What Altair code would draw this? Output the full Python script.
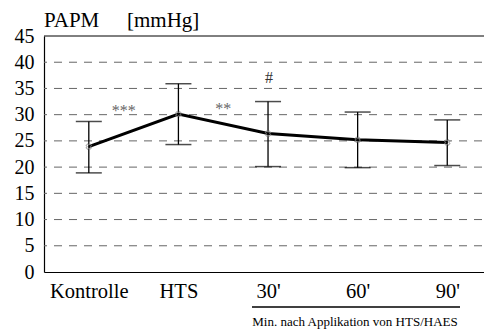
import altair as alt
import pandas as pd

# PAPM (mean pulmonary arterial pressure) over the course of the study
phases = ["Kontrolle", "HTS", "30'", "60'", "90'"]
mean_papm = [23.9, 30.1, 26.4, 25.2, 24.7]
upper_sd = [28.7, 35.9, 32.5, 30.5, 29.0]
lower_sd = [18.9, 24.3, 20.1, 19.9, 20.3]

# significance markers placed between / above the phases
sig_text = ["***", "**", "#"]
sig_pos = [0.39, 1.5, 2.01]
sig_level = [29.8, 30.2, 36.0]
sig_color = ["#666666", "#666666", "#333333"]

grid_levels = [5, 10, 15, 20, 25, 30, 35, 40]

FONT = "Liberation Serif"

df = pd.DataFrame({
    "idx": list(range(len(phases))),
    "phase": phases,
    "mean": mean_papm,
    "hi": upper_sd,
    "lo": lower_sd,
})
sig = pd.DataFrame({"t": sig_text, "x": sig_pos, "y": sig_level, "c": sig_color})
grid = pd.DataFrame({"g": grid_levels})

x_scale = alt.Scale(domain=[-0.5, 4.41], nice=False, zero=False)
y_scale = alt.Scale(domain=[0, 45], nice=False)

label_expr = "[" + ",".join('"' + p + '"' for p in phases) + "][datum.value]"

x_axis = alt.Axis(values=list(range(len(phases))), labelExpr=label_expr, title=None,
                  ticks=False, grid=False, domainColor="black", domainWidth=1.2,
                  labelFont=FONT, labelFontSize=20.5, labelColor="black",
                  labelPadding=9, labelFlush=False, labelOverlap=False)
y_axis = alt.Axis(values=list(range(0, 46, 5)), title=None, ticks=False, grid=False,
                  domainColor="black", domainWidth=1.2, labelFont=FONT, labelFontSize=20,
                  labelColor="black", labelPadding=10, labelOverlap=False, labelFlush=False)


def xq(field):
    return alt.X(field, type="quantitative", scale=x_scale, axis=x_axis)


def yq(field):
    return alt.Y(field, type="quantitative", scale=y_scale, axis=y_axis)


base = alt.Chart(df)

gridlines = alt.Chart(grid).mark_rule(color="#666666", strokeWidth=1, strokeDash=[8, 7],
                                      strokeDashOffset=-2).encode(
    y=yq("g")
)
top_border = alt.Chart(alt.Data(values=[{"v": 45}])).mark_rule(color="black", strokeWidth=1).encode(
    y=yq("v")
)

err_rule = base.mark_rule(color="black", strokeWidth=1.3).encode(
    x=xq("idx"), y=yq("lo"), y2="hi:Q"
)
cap_hi = base.mark_tick(orient="horizontal", size=26, thickness=1.5, color="black").encode(
    x=xq("idx"), y=yq("hi")
)
cap_lo = base.mark_tick(orient="horizontal", size=26, thickness=1.5, color="black").encode(
    x=xq("idx"), y=yq("lo")
)
line = base.mark_line(color="black", strokeWidth=3).encode(
    x=xq("idx"), y=yq("mean")
)
pts = base.mark_point(shape="cross", angle=45, filled=False, color="#888888",
                      size=30, strokeWidth=1).encode(
    x=xq("idx"), y=yq("mean")
)

sig_marks = alt.Chart(sig).mark_text(font=FONT, fontSize=16, baseline="alphabetic",
                                     align="center").encode(
    x=xq("x"),
    y=yq("y"),
    text="t:N",
    color=alt.Color("c:N", scale=None),
)

one = alt.Data(values=[{}])
title_a = alt.Chart(one).mark_text(text="PAPM", font=FONT, fontSize=21, align="left",
                                   baseline="alphabetic", color="black").encode(
    x=alt.value(0), y=alt.value(-9))
title_b = alt.Chart(one).mark_text(text="[mmHg]", font=FONT, fontSize=21, align="left",
                                   baseline="alphabetic", color="black").encode(
    x=alt.value(83), y=alt.value(-9))
underline = alt.Chart(one).mark_rule(color="black", strokeWidth=1.6).encode(
    x=alt.value(208), x2=alt.value(416), y=alt.value(271))
note = alt.Chart(one).mark_text(text="Min. nach Applikation von HTS/HAES", font=FONT,
                                fontSize=13, align="center", baseline="alphabetic",
                                color="black").encode(
    x=alt.value(311), y=alt.value(290))

chart = alt.layer(
    gridlines, top_border, err_rule, cap_hi, cap_lo, line, pts, sig_marks,
    title_a, title_b, underline, note,
).properties(
    width=440, height=236,
    autosize=alt.AutoSizeParams(type="none"),
    padding={"left": 44, "top": 36, "right": 0, "bottom": 63},
).configure(
    background="white",
    font=FONT,
).configure_view(
    stroke=None
).configure_axis(
    labelFont=FONT, labelColor="black"
)

chart.save("out.html", embed_options={"renderer": "svg", "actions": False})
